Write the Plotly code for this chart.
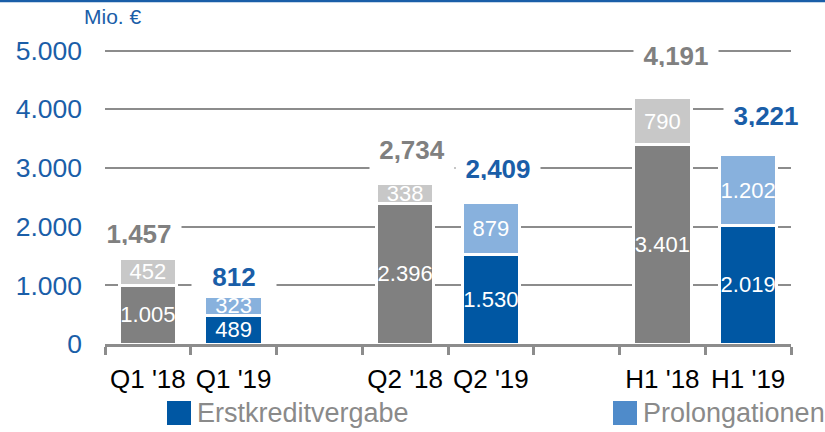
import plotly.graph_objects as go

# ---- data ----
categories = ["Q1 '18", "Q1 '19", " ", "Q2 '18", "Q2 '19", "  ", "H1 '18", "H1 '19"]
periods_2018 = ["Q1 '18", "Q2 '18", "H1 '18"]
periods_2019 = ["Q1 '19", "Q2 '19", "H1 '19"]
base_2018 = [1005, 2396, 3401]
top_2018 = [452, 338, 790]
erstkredit_2019 = [489, 1530, 2019]
prolongation_2019 = [323, 879, 1202]
totals_2018 = [1457, 2734, 4191]
totals_2019 = [812, 2409, 3221]
y_ticks = [0, 1000, 2000, 3000, 4000, 5000]
unit_label = "Mio. €"
legend_labels = ["Erstkreditvergabe", "Prolongationen"]

# ---- style ----
FONT = "Liberation Sans"
BLUE = "#0057a3"
BLUE_TXT = "#1a5ea8"
LIGHT_BLUE = "#88b1dd"
LEGEND_LIGHT_BLUE = "#4f8bca"
DARK_GRAY = "#808080"
LIGHT_GRAY = "#c8c8c8"
GRID = "#8c8c8c"
W, H = 825, 432
L, R, T, B = 105, 34, 44, 88
PW, PH = W - L - R, H - T - B
Y_TOP = 5000 * PH / 293.5  # 5000 gridline sits ~50px below the top edge


def px(x):
    return (x - L) / PW


def py(y):
    return (H - B - y) / PH


fig = go.Figure()

bar_w = 0.67
seg_font = dict(family=FONT, size=22, color="white")


def add_bar(x, y, color):
    fig.add_trace(go.Bar(
        x=x, y=y, width=bar_w,
        marker=dict(color=color, line=dict(color="white", width=3)),
        texttemplate="%{y:,.0f}", textposition="inside", insidetextanchor="middle",
        textangle=0, constraintext="none", insidetextfont=seg_font,
        showlegend=False, hoverinfo="skip", cliponaxis=False,
    ))


add_bar(periods_2018, base_2018, DARK_GRAY)
add_bar(periods_2019, erstkredit_2019, BLUE)
add_bar(periods_2018, top_2018, LIGHT_GRAY)
add_bar(periods_2019, prolongation_2019, LIGHT_BLUE)

# total labels
shift_2018 = [(-9, 26), (7, 36), (14, 44)]
shift_2019 = [(0, 21), (7, 36), (18, 41)]
heights_2018 = [26, 44, 26]
heights_2019 = [26, 26, 26]
for xs, ys, shifts, hts, col in [
    (periods_2018, totals_2018, shift_2018, heights_2018, DARK_GRAY),
    (periods_2019, totals_2019, shift_2019, heights_2019, BLUE_TXT),
]:
    for x, y, (dx, dy), h in zip(xs, ys, shifts, hts):
        fig.add_annotation(
            x=x, y=y, xref="x", yref="y", text=f"<b>{y:,}</b>", showarrow=False,
            xshift=dx, yshift=dy - (h - 26) / 2, yanchor="middle",
            width=84, height=h, valign="top", bgcolor="white", borderpad=0,
            font=dict(family=FONT, size=26, color=col),
        )

# unit label
fig.add_annotation(x=px(113), y=py(17), xref="paper", yref="paper", text=unit_label,
                   xanchor="center", yanchor="middle",
                   showarrow=False, font=dict(family=FONT, size=21, color=BLUE_TXT))

# top rule
fig.add_shape(type="line", xref="paper", yref="paper", x0=px(0), x1=px(W), y0=py(1), y1=py(1),
              line=dict(color=BLUE_TXT, width=2.5))

# legend
for (x0, label, col) in [(167, legend_labels[0], BLUE), (613, legend_labels[1], LEGEND_LIGHT_BLUE)]:
    fig.add_shape(type="rect", xref="paper", yref="paper", x0=px(x0), x1=px(x0 + 24),
                  y0=py(425), y1=py(401), fillcolor=col, line=dict(width=0))
    fig.add_annotation(x=px(x0 + 28), y=py(413), xref="paper", yref="paper", text=label,
                       xanchor="left", yanchor="middle", showarrow=False,
                       font=dict(family=FONT, size=27, color="#8a8a8a"))

fig.update_layout(
    width=W, height=H, margin=dict(l=L, r=R, t=T, b=B, autoexpand=False),
    barmode="stack", bargap=0.33,
    plot_bgcolor="white", paper_bgcolor="white",
    separators=",.",
    showlegend=False,
    xaxis=dict(
        type="category", categoryorder="array", categoryarray=categories,
        range=[-0.5, len(categories) - 0.5],
        tickmode="array", tickvals=categories, ticktext=categories, tickangle=0,
        showgrid=False, showline=True, linecolor=GRID, linewidth=2.5,
        ticks="outside", tickson="boundaries", ticklen=8, tickwidth=2.5, tickcolor=GRID,
        tickfont=dict(family=FONT, size=26, color="black"), ticklabelstandoff=10,
        automargin=False,
    ),
    yaxis=dict(
        range=[0, Y_TOP], tickvals=y_ticks, tickformat=",.0f",
        showgrid=True, gridcolor=GRID, gridwidth=1.5, zeroline=False,
        showline=False, ticks="",
        tickfont=dict(family=FONT, size=26.5, color=BLUE_TXT), ticklabelstandoff=22,
        automargin=False,
    ),
)

fig.write_html("out.html", config={"displayModeBar": False},
               post_script="document.body.style.margin='0';")
